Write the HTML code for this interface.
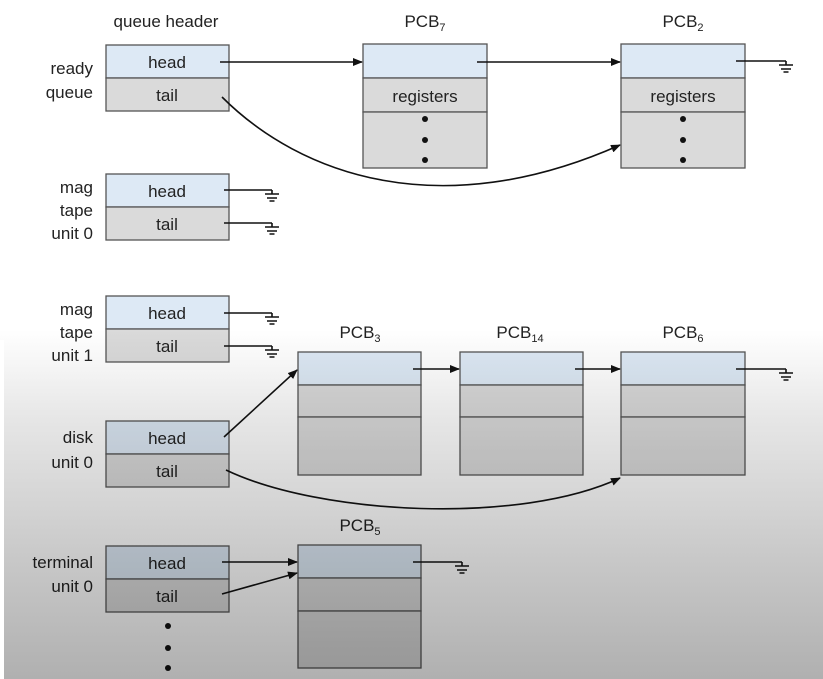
<!DOCTYPE html>
<html><head><style>
html,body{margin:0;padding:0;}
body{width:823px;height:679px;position:relative;overflow:hidden;background:#fff;font-family:"Liberation Sans",Arial,sans-serif;}
svg{position:absolute;left:0;top:0;}
.ov{position:absolute;left:0;top:0;width:823px;height:679px;background:linear-gradient(to bottom,#fff 0px,#fff 330px,#e6e6e6 420px,#c8c8c8 560px,#b0b0b0 679px);mix-blend-mode:multiply;pointer-events:none;}
.strip{position:absolute;left:0;top:340px;width:4px;height:339px;background:#fff;}
</style></head><body>
<svg width="823" height="679" viewBox="0 0 823 679">
<defs>
<marker id="a" markerWidth="10" markerHeight="8" refX="9" refY="4" orient="auto" markerUnits="userSpaceOnUse"><path d="M0,0 L10,4 L0,8 z" fill="#111"/></marker>
<g id="gnd" stroke="#111" stroke-width="1.6" fill="none"><path d="M0,0 V4 M-7,4 H7 M-5,8 H5 M-2.5,11 H2.5"/></g>
</defs>
<g font-size="17" fill="#222" text-anchor="middle">
<text x="166" y="27">queue header</text>
<text x="425" y="27">PCB<tspan font-size="11" dy="4">7</tspan></text>
<text x="683" y="27">PCB<tspan font-size="11" dy="4">2</tspan></text>
<text x="360" y="338">PCB<tspan font-size="11" dy="4">3</tspan></text>
<text x="520" y="338">PCB<tspan font-size="11" dy="4">14</tspan></text>
<text x="683" y="338">PCB<tspan font-size="11" dy="4">6</tspan></text>
<text x="360" y="531">PCB<tspan font-size="11" dy="4">5</tspan></text>
</g>
<g font-size="17" fill="#222" text-anchor="end">
<text x="93" y="74">ready</text><text x="93" y="98">queue</text>
<text x="93" y="193">mag</text><text x="93" y="216">tape</text><text x="93" y="239">unit 0</text>
<text x="93" y="315">mag</text><text x="93" y="338">tape</text><text x="93" y="361">unit 1</text>
<text x="93" y="443">disk</text><text x="93" y="468">unit 0</text>
<text x="93" y="568">terminal</text><text x="93" y="592">unit 0</text>
</g>
<g stroke="#555" stroke-width="1.3">
<rect x="106" y="45" width="123" height="33" fill="#dde9f5"/><rect x="106" y="78" width="123" height="33" fill="#dadada"/>
<rect x="106" y="174" width="123" height="33" fill="#dde9f5"/><rect x="106" y="207" width="123" height="33" fill="#dadada"/>
<rect x="106" y="296" width="123" height="33" fill="#dde9f5"/><rect x="106" y="329" width="123" height="33" fill="#dadada"/>
<rect x="106" y="421" width="123" height="33" fill="#dde9f5"/><rect x="106" y="454" width="123" height="33" fill="#dadada"/>
<rect x="106" y="546" width="123" height="33" fill="#dde9f5"/><rect x="106" y="579" width="123" height="33" fill="#dadada"/>
<rect x="363" y="44" width="124" height="34" fill="#dde9f5"/><rect x="363" y="78" width="124" height="34" fill="#dadada"/><rect x="363" y="112" width="124" height="56" fill="#dadada"/>
<rect x="621" y="44" width="124" height="34" fill="#dde9f5"/><rect x="621" y="78" width="124" height="34" fill="#dadada"/><rect x="621" y="112" width="124" height="56" fill="#dadada"/>
<rect x="298" y="352" width="123" height="33" fill="#dde9f5"/><rect x="298" y="385" width="123" height="32" fill="#dadada"/><rect x="298" y="417" width="123" height="58" fill="#dadada"/>
<rect x="460" y="352" width="123" height="33" fill="#dde9f5"/><rect x="460" y="385" width="123" height="32" fill="#dadada"/><rect x="460" y="417" width="123" height="58" fill="#dadada"/>
<rect x="621" y="352" width="124" height="33" fill="#dde9f5"/><rect x="621" y="385" width="124" height="32" fill="#dadada"/><rect x="621" y="417" width="124" height="58" fill="#dadada"/>
<rect x="298" y="545" width="123" height="33" fill="#dde9f5"/><rect x="298" y="578" width="123" height="33" fill="#dadada"/><rect x="298" y="611" width="123" height="57" fill="#dadada"/>
</g>
<g font-size="17" fill="#222" text-anchor="middle">
<text x="167" y="68">head</text><text x="167" y="101">tail</text>
<text x="167" y="197">head</text><text x="167" y="230">tail</text>
<text x="167" y="319">head</text><text x="167" y="352">tail</text>
<text x="167" y="444">head</text><text x="167" y="477">tail</text>
<text x="167" y="569">head</text><text x="167" y="602">tail</text>
<text x="425" y="102">registers</text><text x="683" y="102">registers</text>
</g>
<g fill="#111">
<circle cx="425" cy="119" r="3"/><circle cx="425" cy="140" r="3"/><circle cx="425" cy="160" r="3"/>
<circle cx="683" cy="119" r="3"/><circle cx="683" cy="140" r="3"/><circle cx="683" cy="160" r="3"/>
<circle cx="168" cy="626" r="3"/><circle cx="168" cy="648" r="3"/><circle cx="168" cy="668" r="3"/>
</g>
<g stroke="#111" stroke-width="1.6" fill="none">
<path d="M220,62 H362" marker-end="url(#a)"/>
<path d="M477,62 H620" marker-end="url(#a)"/>
<path d="M222,97 C300,175 440,225 620,145" marker-end="url(#a)"/>
<path d="M413,369 H459" marker-end="url(#a)"/>
<path d="M575,369 H620" marker-end="url(#a)"/>
<path d="M224,437 L297,370" marker-end="url(#a)"/>
<path d="M226,470 C320,515 520,525 620,478" marker-end="url(#a)"/>
<path d="M222,562 H297" marker-end="url(#a)"/>
<path d="M222,594 L297,573" marker-end="url(#a)"/>
<path d="M736,61 H786"/><path d="M224,190 H272"/><path d="M224,223 H272"/>
<path d="M224,313 H272"/><path d="M224,346 H272"/><path d="M736,369 H786"/><path d="M413,562 H462"/>
</g>
<use href="#gnd" x="786" y="61"/><use href="#gnd" x="272" y="190"/><use href="#gnd" x="272" y="223"/>
<use href="#gnd" x="272" y="313"/><use href="#gnd" x="272" y="346"/><use href="#gnd" x="786" y="369"/><use href="#gnd" x="462" y="562"/>
</svg>
<div class="ov"></div>
<div class="strip"></div>
</body></html>
